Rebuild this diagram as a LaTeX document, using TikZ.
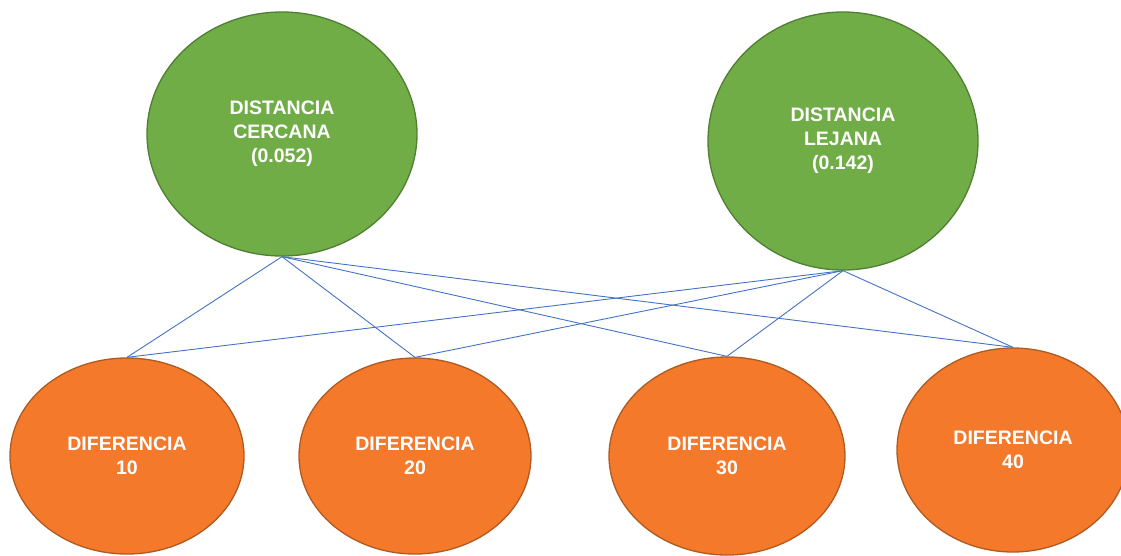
\documentclass[tikz,border=0pt]{standalone}
\usepackage{fontspec}
\setmainfont{Liberation Sans}
\usetikzlibrary{shapes.geometric}
\definecolor{verde}{HTML}{70AD47}
\definecolor{verdeborde}{HTML}{507E32}
\definecolor{naranja}{HTML}{F4792B}
\definecolor{naranjaborde}{HTML}{AE5A21}
\definecolor{azul}{HTML}{4472C4}
\begin{document}
\begin{tikzpicture}[x=1pt, y=-1pt]
		\tikzstyle{dist}=[
		draw=verdeborde,
		fill=verde,
		line width=1.3pt,
		ellipse,
		inner sep=0pt,
		text=white,
		align=center,
		font=\fontsize{19.5}{24}\selectfont\bfseries]
		\tikzstyle{dif}=[
		draw=naranjaborde,
		fill=naranja,
		line width=1.3pt,
		ellipse,
		inner sep=0pt,
		text=white,
		align=center,
		font=\fontsize{19.5}{24}\selectfont\bfseries]
		\tikzstyle{enlace}=[azul, line width=0.9pt]
		\clip (0,0) rectangle (1121,555);
		\node[dist, minimum width=270pt, minimum height=244pt] (DC) at (282,134) {DISTANCIA\\CERCANA\\(0.052)};
		\node[dist, minimum width=270pt, minimum height=258pt] (DL) at (843,141) {DISTANCIA\\LEJANA\\(0.142)};
		\node[dif, minimum width=234pt, minimum height=196pt] (D10) at (127,456) {DIFERENCIA\\10};
		\node[dif, minimum width=232pt, minimum height=196pt] (D20) at (415,456) {DIFERENCIA\\20};
		\node[dif, minimum width=236pt, minimum height=198pt] (D30) at (727,456) {DIFERENCIA\\30};
		\node[dif, minimum width=232pt, minimum height=204pt] (D40) at (1013,450) {DIFERENCIA\\40};
		%
		\foreach \d in {D10, D20, D30, D40} {
			\draw[enlace] (DC.south) -- (\d.north);
			\draw[enlace] (DL.south) -- (\d.north);
		}
	\end{tikzpicture}
\end{document}
